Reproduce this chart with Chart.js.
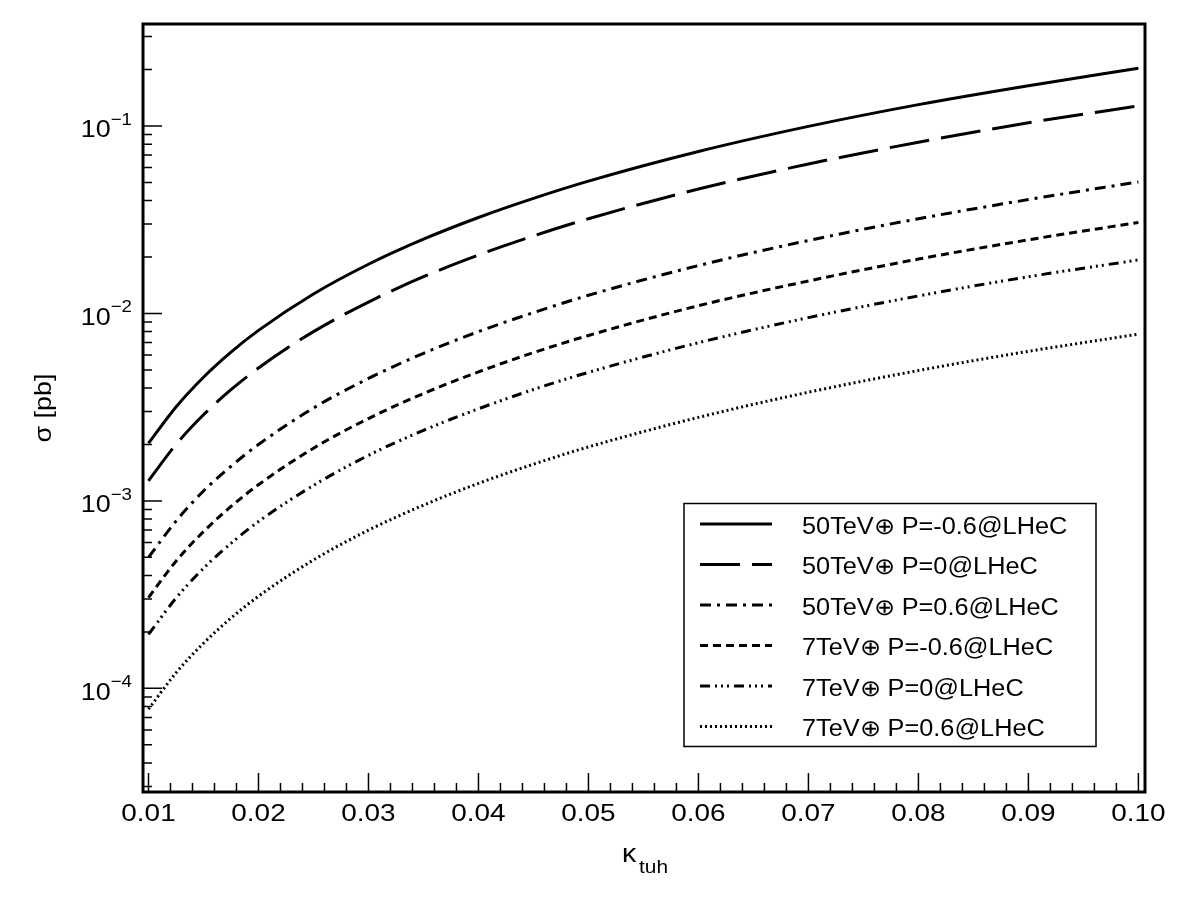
<!DOCTYPE html>
<html>
<head>
<meta charset="utf-8">
<script src="https://cdn.jsdelivr.net/npm/chart.js@4.4.1/dist/chart.umd.min.js"></script>
<style>
    body { margin: 0; background: #fff; }
    #wrap { width: 1182px; height: 900px; }
</style>
</head>
<body>
<div id="wrap"><canvas id="sigmaChart" width="1182" height="900"></canvas></div>
<script>
// kappa_tuh 값 (x축)
const kappa = [0.01, 0.0125, 0.015, 0.0175, 0.02, 0.025, 0.03, 0.035, 0.04, 0.045, 0.05, 0.06, 0.07, 0.08, 0.09, 0.10];

// 단면적 sigma [pb] - 그림에서 읽은 값
const s50m06 = [0.00203, 0.00317, 0.00457, 0.00622, 0.00812, 0.0127, 0.0183, 0.0249, 0.0325, 0.0411, 0.0508, 0.0731, 0.0995, 0.130, 0.164, 0.203];
const s50p0  = [0.00128, 0.00200, 0.00288, 0.00392, 0.00512, 0.0080, 0.0115, 0.0157, 0.0205, 0.0259, 0.0320, 0.0461, 0.0627, 0.0819, 0.104, 0.128];
const s50p06 = [0.00050, 0.00078, 0.00113, 0.00153, 0.00200, 0.00313, 0.0045, 0.00613, 0.0080, 0.0101, 0.0125, 0.0180, 0.0245, 0.0320, 0.0405, 0.0503];
const s7m06  = [0.000305, 0.000477, 0.000686, 0.000934, 0.00122, 0.00191, 0.00275, 0.00374, 0.00488, 0.00618, 0.00763, 0.0110, 0.0149, 0.0195, 0.0247, 0.0306];
const s7p0   = [0.000194, 0.000303, 0.000437, 0.000594, 0.000776, 0.00121, 0.00175, 0.00238, 0.0031, 0.00393, 0.00485, 0.00698, 0.0095, 0.0124, 0.0157, 0.0193];
const s7p06  = [0.0000775, 0.000121, 0.000174, 0.000237, 0.00031, 0.000484, 0.000698, 0.000949, 0.00124, 0.00157, 0.00194, 0.00279, 0.0038, 0.00496, 0.00628, 0.00775];

const seriesLabels = [
    '50TeV\u2295 P=-0.6@LHeC',
    '50TeV\u2295 P=0@LHeC',
    '50TeV\u2295 P=0.6@LHeC',
    '7TeV\u2295 P=-0.6@LHeC',
    '7TeV\u2295 P=0@LHeC',
    '7TeV\u2295 P=0.6@LHeC'
];

const xTicks = [0.01, 0.02, 0.03, 0.04, 0.05, 0.06, 0.07, 0.08, 0.09, 0.10];
const xTickLabels = ['0.01', '0.02', '0.03', '0.04', '0.05', '0.06', '0.07', '0.08', '0.09', '0.10'];
const yDecades = [1e-4, 1e-3, 1e-2, 1e-1];
const yDecadeExp = ['\u22124', '\u22123', '\u22122', '\u22121'];

const FONT = '"Liberation Sans", Arial, sans-serif';

function toPoints(arr) {
    return kappa.map((k, i) => ({ x: k, y: arr[i] }));
}

// 가로로 약간 늘린 텍스트 (원본 그림 비율)
function drawText(ctx, txt, x, y, size, align, sx) {
    ctx.save();
    ctx.font = size + 'px ' + FONT;
    ctx.textAlign = align;
    ctx.textBaseline = 'alphabetic';
    ctx.fillStyle = '#000';
    ctx.translate(x, y);
    ctx.scale(sx || 1.1, 1);
    ctx.fillText(txt, 0, 0);
    ctx.restore();
}

function textWidth(ctx, txt, size, sx) {
    ctx.save();
    ctx.font = size + 'px ' + FONT;
    const w = ctx.measureText(txt).width * (sx || 1.1);
    ctx.restore();
    return w;
}

// ROOT 스타일 프레임, 눈금, 범례
const rootFrame = {
    id: 'rootFrame',
    afterDraw(chart) {
        const ctx = chart.ctx;
        const a = chart.chartArea;
        const xs = chart.scales.x;
        const ys = chart.scales.y;

        ctx.save();
        ctx.strokeStyle = '#000';
        ctx.lineWidth = 3;
        ctx.setLineDash([]);
        ctx.strokeRect(a.left, a.top, a.right - a.left, a.bottom - a.top);

        // x축 눈금
        ctx.lineWidth = 1.5;
        ctx.beginPath();
        for (let i = 0; i <= 50; i++) {
            const v = 0.01 + i * 0.002;
            if (v > xs.max) break;
            const px = xs.getPixelForValue(v);
            const len = (i % 5 === 0) ? 19 : 9;
            ctx.moveTo(px, a.bottom);
            ctx.lineTo(px, a.bottom - len);
        }
        // y축 눈금 (로그)
        for (let e = -5; e <= 0; e++) {
            for (let m = 1; m <= 9; m++) {
                const v = m * Math.pow(10, e);
                if (v < ys.min || v > ys.max) continue;
                const py = ys.getPixelForValue(v);
                const len = (m === 1) ? 19 : 9;
                ctx.moveTo(a.left, py);
                ctx.lineTo(a.left + len, py);
            }
        }
        ctx.stroke();

        // x축 라벨
        xTicks.forEach((v, i) => {
            drawText(ctx, xTickLabels[i], xs.getPixelForValue(v), 821, 24.5, 'center', 1.14);
        });

        // y축 라벨 10^n
        yDecades.forEach((v, i) => {
            const py = ys.getPixelForValue(v);
            const right = 132;
            const ew = textWidth(ctx, yDecadeExp[i], 17);
            drawText(ctx, yDecadeExp[i], right, py - 1, 17, 'right');
            drawText(ctx, '10', right - ew, py + 11.5, 24.5, 'right');
        });

        // 축 제목
        ctx.save();
        ctx.translate(51, (a.top + a.bottom) / 2);
        ctx.rotate(-Math.PI / 2);
        drawText(ctx, '\u03c3 [pb]', 0, 0, 24.5, 'center');
        ctx.restore();
        drawText(ctx, '\u03ba', 622, 862, 26, 'left');
        drawText(ctx, 'tuh', 639, 873, 19, 'left');

        // 범례
        ctx.lineWidth = 1.5;
        ctx.strokeRect(684, 503.5, 412, 243);
        chart.data.datasets.forEach((ds, i) => {
            const ly = 524 + i * 40.5;
            ctx.beginPath();
            ctx.lineWidth = 3;
            ctx.setLineDash(ds.borderDash || []);
            ctx.moveTo(700, ly);
            ctx.lineTo(772, ly);
            ctx.stroke();
            ctx.setLineDash([]);
            drawText(ctx, ds.label, 802, ly + 9.5, 23, 'left');
        });
        ctx.restore();
    }
};

const seriesData = [s50m06, s50p0, s50p06, s7m06, s7p0, s7p06];
const dashes = [[], [40, 12], [11, 6, 3, 6], [8, 5], [10, 5, 2, 4, 2, 4, 2, 5], [2, 3]];

new Chart(document.getElementById('sigmaChart').getContext('2d'), {
    type: 'line',
    data: {
        datasets: seriesData.map((arr, i) => ({
            label: seriesLabels[i],
            data: toPoints(arr),
            borderColor: '#000',
            borderWidth: 3,
            borderDash: dashes[i],
            pointRadius: 0,
            cubicInterpolationMode: 'monotone',
            fill: false
        }))
    },
    options: {
        responsive: false,
        animation: false,
        layout: { padding: { left: 143, right: 37, top: 24, bottom: 108 } },
        plugins: { legend: { display: false }, tooltip: { enabled: false } },
        scales: {
            x: { type: 'linear', display: false, min: 0.0095, max: 0.1006 },
            y: { type: 'logarithmic', display: false, min: 2.8e-5, max: 0.35 }
        }
    },
    plugins: [rootFrame]
});
</script>
</body>
</html>
